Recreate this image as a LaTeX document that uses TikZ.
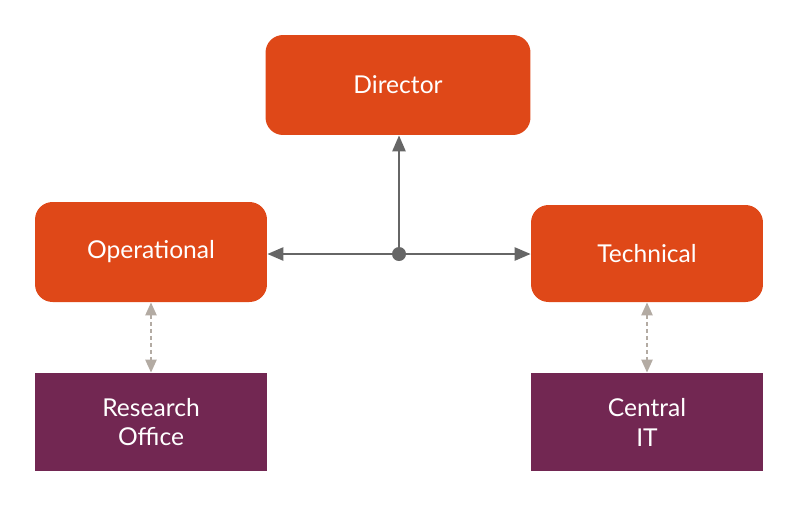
\documentclass[tikz,border=0pt]{standalone}
\usepackage{fontspec}
\setmainfont{Lato}
\usetikzlibrary{arrows.meta, positioning}
\definecolor{boxOrange}{HTML}{DF4818}
\definecolor{boxPurple}{HTML}{722752}
\definecolor{lineGrey}{HTML}{666666}
\definecolor{linkGrey}{HTML}{B3ABA3}
\tikzset{
    role/.style={fill=boxOrange, rounded corners=3.5mm, text=white, minimum width=4.64cm, minimum height=2cm, font=\fontsize{14}{17}\selectfont, align=center},
    unit/.style={fill=boxPurple, text=white, minimum width=4.64cm, minimum height=1.96cm, font=\fontsize{14}{17}\selectfont, align=center},
    report/.style={draw=lineGrey, line width=1.4pt, -{Triangle[length=3.2mm, width=2.6mm]}},
    liaison/.style={draw=linkGrey, line width=1.3pt, dash pattern=on 2.5pt off 1.5pt, {Triangle[length=2.6mm, width=2.2mm]}-{Triangle[length=2.6mm, width=2.2mm]}}
}
\begin{document}
\begin{tikzpicture}[x=0.02cm, y=-0.02cm]
    \useasboundingbox (0, 0) rectangle (800, 508);

    % Role boxes
    \node[role, minimum width=5.3cm] (director) at (398, 85) {Director};
    \node[role] (operational) at (151, 252) {Operational};
    \node[role, minimum height=1.94cm] (technical) at (647, 253.5) {Technical};

    % Supporting units
    \node[unit] (research) at (151, 422) {Research\\Office};
    \node[unit] (central) at (647, 422) {Central\\IT};

    % Reporting lines
    \coordinate (hub) at (399, 254);
    \draw[report] (hub) -- (director.south -| hub);
    \draw[report] (hub) -- (operational.east |- hub);
    \draw[report] (hub) -- (technical.west |- hub);
    \fill[lineGrey] (hub) circle (1.4mm);

    % Liaison links
    \draw[liaison] (operational.south) -- (research.north);
    \draw[liaison] (technical.south) -- (central.north);
\end{tikzpicture}
\end{document}
